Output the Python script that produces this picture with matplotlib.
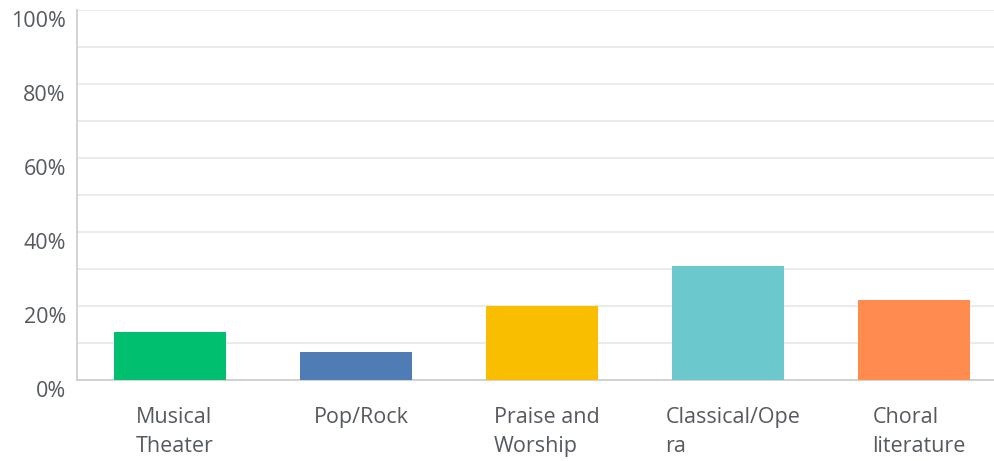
import matplotlib
matplotlib.use("Agg")
import matplotlib.pyplot as plt
import matplotlib.transforms as mtransforms
import numpy as np

categories = ["Musical\nTheater", "Pop/Rock", "Praise and\nWorship", "Classical/Ope\nra", "Choral\nliterature"]
values = [13.0, 7.5, 20.1, 30.8, 21.6]
colors = ["#00bf6f", "#507cb6", "#f9be00", "#6bc8cd", "#ff8b4f"]
ytick_vals = [0, 20, 40, 60, 80, 100]
ytick_labels = ["0%", "20%", "40%", "60%", "80%", "100%"]

plt.rcParams["font.family"] = ["Open Sans", "DejaVu Sans"]

fig = plt.figure(figsize=(9.95, 4.61), dpi=100)
ax = fig.add_axes([77 / 995, 81 / 461, 930 / 995, 370 / 461])

x = np.arange(len(categories))
ax.bar(x, values, width=0.6, color=colors, zorder=3)

ax.set_xlim(-0.5, len(categories) - 0.5)
ax.set_ylim(0, 100)

# gridlines every 10%, labels every 20%
ax.set_yticks(ytick_vals)
ax.set_yticklabels(ytick_labels)
ax.set_yticks(np.arange(10, 101, 10), minor=True)
ax.grid(axis="y", which="both", color="#e8e8e8", linewidth=1.2, zorder=0)
ax.tick_params(axis="y", which="both", length=0, pad=8, labelsize=15.5, labelcolor="#555a60")
ax.set_xticks([])

# shift y labels a bit below their gridline
off = mtransforms.ScaledTranslation(0, -9 / 100, fig.dpi_scale_trans)
for lab in ax.get_yticklabels():
    lab.set_transform(lab.get_transform() + off)

for s in ["top", "right"]:
    ax.spines[s].set_visible(False)
for s in ["left", "bottom"]:
    ax.spines[s].set_color("#cfcfcf")
    ax.spines[s].set_linewidth(1.3)

# category labels under bars
trans = mtransforms.blended_transform_factory(ax.transData, ax.transAxes)
down = mtransforms.ScaledTranslation(5 / 100, -27 / 100, fig.dpi_scale_trans)
for xi, lab in zip(x, categories):
    ax.text(xi, 0, lab, transform=trans + down, ha="center", va="top",
            multialignment="left", fontsize=15.5, color="#555a60", linespacing=1.5)

fig.savefig("out.png", dpi=100)
